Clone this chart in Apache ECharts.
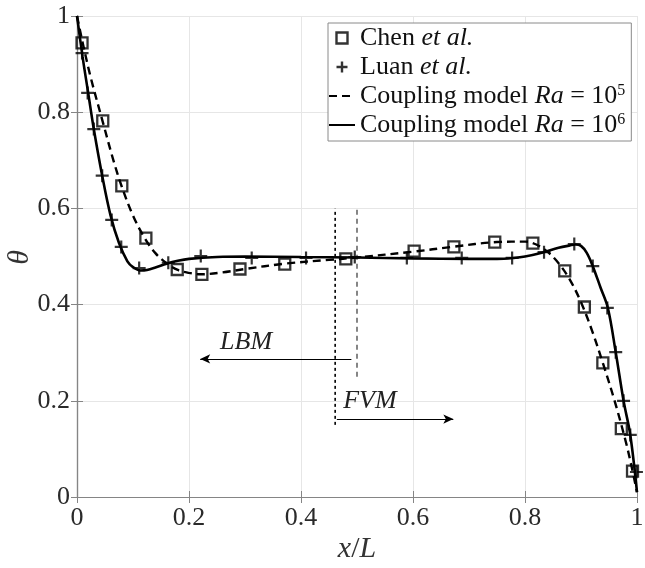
<!DOCTYPE html>
<html>
<head>
<meta charset="utf-8">
<script src="https://cdn.jsdelivr.net/npm/echarts@6/dist/echarts.min.js"></script>
<style>
  html, body { margin: 0; padding: 0; background: #fff; }
  #main { width: 645px; height: 568px; }
</style>
</head>
<body>
<div id="main"></div>
<script>
// Chen et al. (squares)
const chenX = [0.009, 0.046, 0.080, 0.123, 0.179, 0.223, 0.291, 0.371, 0.480, 0.602, 0.673, 0.746, 0.814, 0.871, 0.906, 0.939, 0.972, 0.992];
const chenY = [0.944, 0.782, 0.647, 0.538, 0.473, 0.463, 0.474, 0.484, 0.495, 0.511, 0.520, 0.530, 0.528, 0.470, 0.395, 0.279, 0.142, 0.054];

// Luan et al. (plus)
const luanX = [0.009, 0.019, 0.030, 0.045, 0.062, 0.079, 0.111, 0.163, 0.221, 0.312, 0.409, 0.496, 0.589, 0.687, 0.777, 0.834, 0.888, 0.921, 0.947, 0.962, 0.976, 0.988, 0.999];
const luanY = [0.923, 0.840, 0.765, 0.668, 0.576, 0.520, 0.476, 0.487, 0.501, 0.497, 0.497, 0.499, 0.497, 0.497, 0.497, 0.509, 0.526, 0.480, 0.393, 0.301, 0.200, 0.129, 0.052];

// Coupling model Ra = 10^5 (dashed)
const ra5X = [0, 0.01, 0.025, 0.046, 0.065, 0.08, 0.1, 0.12, 0.14, 0.16, 0.18, 0.2, 0.22, 0.26, 0.3, 0.37, 0.45, 0.5, 0.6, 0.67, 0.75, 0.8, 0.82, 0.84, 0.86, 0.88, 0.9, 0.92, 0.94, 0.96, 0.98, 0.99, 1.0];
const ra5Y = [1, 0.945, 0.87, 0.78, 0.70, 0.645, 0.585, 0.54, 0.507, 0.486, 0.472, 0.466, 0.463, 0.467, 0.474, 0.485, 0.493, 0.498, 0.510, 0.520, 0.530, 0.531, 0.525, 0.510, 0.486, 0.452, 0.405, 0.345, 0.275, 0.200, 0.115, 0.065, 0.01];

// Coupling model Ra = 10^6 (solid)
const ra6X = [0, 0.01, 0.02, 0.03, 0.045, 0.06, 0.075, 0.09, 0.1, 0.113, 0.125, 0.14, 0.16, 0.18, 0.2, 0.25, 0.3, 0.4, 0.5, 0.6, 0.7, 0.75, 0.78, 0.8, 0.83, 0.86, 0.88, 0.89, 0.9, 0.91, 0.92, 0.935, 0.948, 0.962, 0.976, 0.988, 1.0];
const ra6Y = [1, 0.915, 0.84, 0.765, 0.668, 0.585, 0.528, 0.49, 0.478, 0.471, 0.472, 0.477, 0.485, 0.491, 0.495, 0.499, 0.500, 0.499, 0.498, 0.496, 0.495, 0.495, 0.497, 0.500, 0.508, 0.518, 0.523, 0.525, 0.522, 0.508, 0.483, 0.435, 0.393, 0.301, 0.200, 0.129, 0.01];

// LBM / FVM interface lines and arrows
const vline1 = [[0.461, 0.15], [0.461, 0.60]];
const vline2 = [[0.500, 0.25], [0.500, 0.60]];
const lbmArrow = [[0.49, 0.287], [0.22, 0.287]];
const fvmArrow = [[0.464, 0.162], [0.672, 0.162]];
const lbmText = [0.302, 0.322];
const fvmText = [0.523, 0.200];

const FONT = 'Liberation Serif';
const zip = (xs, ys) => xs.map((x, i) => [x, ys[i]]);

const legendLabels = {
  'chen': '{r|Chen }{i|et al.}',
  'luan': '{r|Luan }{i|et al.}',
  'ra5': '{r|Coupling model }{i|Ra}{r| = 10}{s|5}',
  'ra6': '{r|Coupling model }{i|Ra}{r| = 10}{s|6}'
};

const chart = echarts.init(document.getElementById('main'), null, { renderer: 'canvas' });

const axisLineStyle = { color: '#858585', width: 1.2 };
const tickStyle = { show: true, inside: true, length: 6, lineStyle: { color: '#858585', width: 1 } };
const hidden = { opacity: 0 };

const option = {
  animation: false,
  backgroundColor: '#fff',
  grid: { left: 77, right: 8, top: 16, bottom: 71, outerBoundsMode: 'none', containLabel: false },
  xAxis: [
    {
      type: 'value', min: 0, max: 1, interval: 0.2, position: 'bottom',
      name: '{i|x}{r|/}{i|L}', nameLocation: 'middle', nameGap: 37, nameMoveOverlap: false,
      nameTextStyle: {
        rich: {
          i: { fontFamily: FONT, fontSize: 30, fontStyle: 'italic', color: '#333' },
          r: { fontFamily: FONT, fontSize: 30, color: '#333' }
        }
      },
      axisLine: { show: true, lineStyle: axisLineStyle },
      axisTick: tickStyle,
      axisLabel: { fontFamily: FONT, fontSize: 26, color: '#2a2a2a', margin: 8 },
      splitLine: { show: true, lineStyle: { color: '#e6e6e6', width: 1 } }
    },
    {
      type: 'value', min: 0, max: 1, interval: 0.2, position: 'top',
      axisLine: { show: true, lineStyle: axisLineStyle },
      axisTick: tickStyle, axisLabel: { show: false }, splitLine: { show: false }
    }
  ],
  yAxis: [
    {
      type: 'value', min: 0, max: 1, interval: 0.2, position: 'left',
      axisLine: { show: true, lineStyle: axisLineStyle },
      axisTick: tickStyle,
      axisLabel: { fontFamily: FONT, fontSize: 26, color: '#2a2a2a', margin: 7 },
      splitLine: { show: true, lineStyle: { color: '#e6e6e6', width: 1 } }
    },
    {
      type: 'value', min: 0, max: 1, interval: 0.2, position: 'right',
      axisLine: { show: true, lineStyle: axisLineStyle },
      axisTick: tickStyle, axisLabel: { show: false }, splitLine: { show: false }
    }
  ],
  legend: {
    orient: 'vertical', left: 328, top: 23,
    itemWidth: 26, itemHeight: 11, itemGap: 3,
    padding: [2, 6, 3, 0],
    backgroundColor: '#fff', borderColor: '#8a8a8a', borderWidth: 1,
    data: [
      { name: 'chen', icon: 'path://M0,0L10,0L10,10L0,10Z',
        itemStyle: { color: 'none', borderColor: '#000', borderWidth: 2.4 } },
      { name: 'luan', icon: 'path://M0,6L12,6M6,0L6,12',
        itemStyle: { color: 'none', borderColor: '#000', borderWidth: 2.4 } },
      { name: 'ra5', itemStyle: hidden },
      { name: 'ra6', itemStyle: hidden }
    ],
    formatter: function (name) { return legendLabels[name]; },
    textStyle: {
      color: '#111',
      rich: {
        r: { fontFamily: FONT, fontSize: 26, lineHeight: 26, color: '#111' },
        i: { fontFamily: FONT, fontSize: 26, lineHeight: 26, fontStyle: 'italic', color: '#111' },
        s: { fontFamily: FONT, fontSize: 16, lineHeight: 26, verticalAlign: 'top', color: '#111' }
      }
    }
  },
  series: [
    {
      name: 'ra5', type: 'line', data: zip(ra5X, ra5Y),
      smooth: 0.35, symbol: 'none', z: 3,
      lineStyle: { color: '#000', width: 2.4, type: [8, 5] },
      itemStyle: { color: '#000' }
    },
    {
      name: 'ra6', type: 'line', data: zip(ra6X, ra6Y),
      smooth: 0.35, symbol: 'none', z: 3,
      lineStyle: { color: '#000', width: 2.6 },
      itemStyle: { color: '#000' }
    },
    {
      name: 'chen', type: 'scatter', data: zip(chenX, chenY),
      symbol: 'rect', symbolSize: 11, z: 4,
      itemStyle: { color: 'rgba(255,255,255,0)', borderColor: '#000', borderWidth: 2.3 }
    },
    {
      name: 'luan', type: 'scatter', data: zip(luanX, luanY),
      symbol: 'path://M0,6L12,6M6,0L6,12', symbolSize: 13, z: 4,
      itemStyle: { color: 'none', borderColor: '#000', borderWidth: 2.2 }
    },
    {
      name: 'interface1', type: 'line', data: vline1, symbol: 'none', silent: true, z: 2,
      lineStyle: { color: '#000', width: 1.6, type: [3, 3] }
    },
    {
      name: 'interface2', type: 'line', data: vline2, symbol: 'none', silent: true, z: 2,
      lineStyle: { color: '#444', width: 1.3, type: [5, 4] }
    },
    {
      name: 'arrows', type: 'line', data: [], silent: true,
      markLine: {
        silent: true, animation: false,
        symbolSize: [7, 10],
        label: { show: false },
        lineStyle: { color: '#000', width: 1, type: 'solid' },
        emphasis: { disabled: true },
        data: [
          [{ coord: lbmArrow[0], symbol: 'none' }, { coord: lbmArrow[1], symbol: 'arrow' }],
          [{ coord: fvmArrow[0], symbol: 'none' }, { coord: fvmArrow[1], symbol: 'arrow' }]
        ]
      }
    }
  ]
};

chart.setOption(option);

// LBM / FVM labels placed through the axes, θ as the y axis title
const pL = chart.convertToPixel({ gridIndex: 0 }, lbmText);
const pF = chart.convertToPixel({ gridIndex: 0 }, fvmText);
const pY = chart.convertToPixel({ gridIndex: 0 }, [0, 0.5]);
chart.setOption({
  graphic: [
    {
      type: 'text', x: pL[0], y: pL[1], silent: true,
      style: { text: 'LBM', fontFamily: FONT, fontSize: 26, fontStyle: 'italic', fill: '#222', align: 'center', verticalAlign: 'middle' }
    },
    {
      type: 'text', x: pF[0], y: pF[1], silent: true,
      style: { text: 'FVM', fontFamily: FONT, fontSize: 26, fontStyle: 'italic', fill: '#222', align: 'center', verticalAlign: 'middle' }
    },
    {
      type: 'text', x: pY[0] - 57, y: pY[1] + 1, rotation: Math.PI / 2, silent: true,
      style: { text: 'θ', fontFamily: FONT, fontSize: 30, fontStyle: 'italic', fill: '#333', align: 'center', verticalAlign: 'middle' }
    }
  ]
});
</script>
</body>
</html>
